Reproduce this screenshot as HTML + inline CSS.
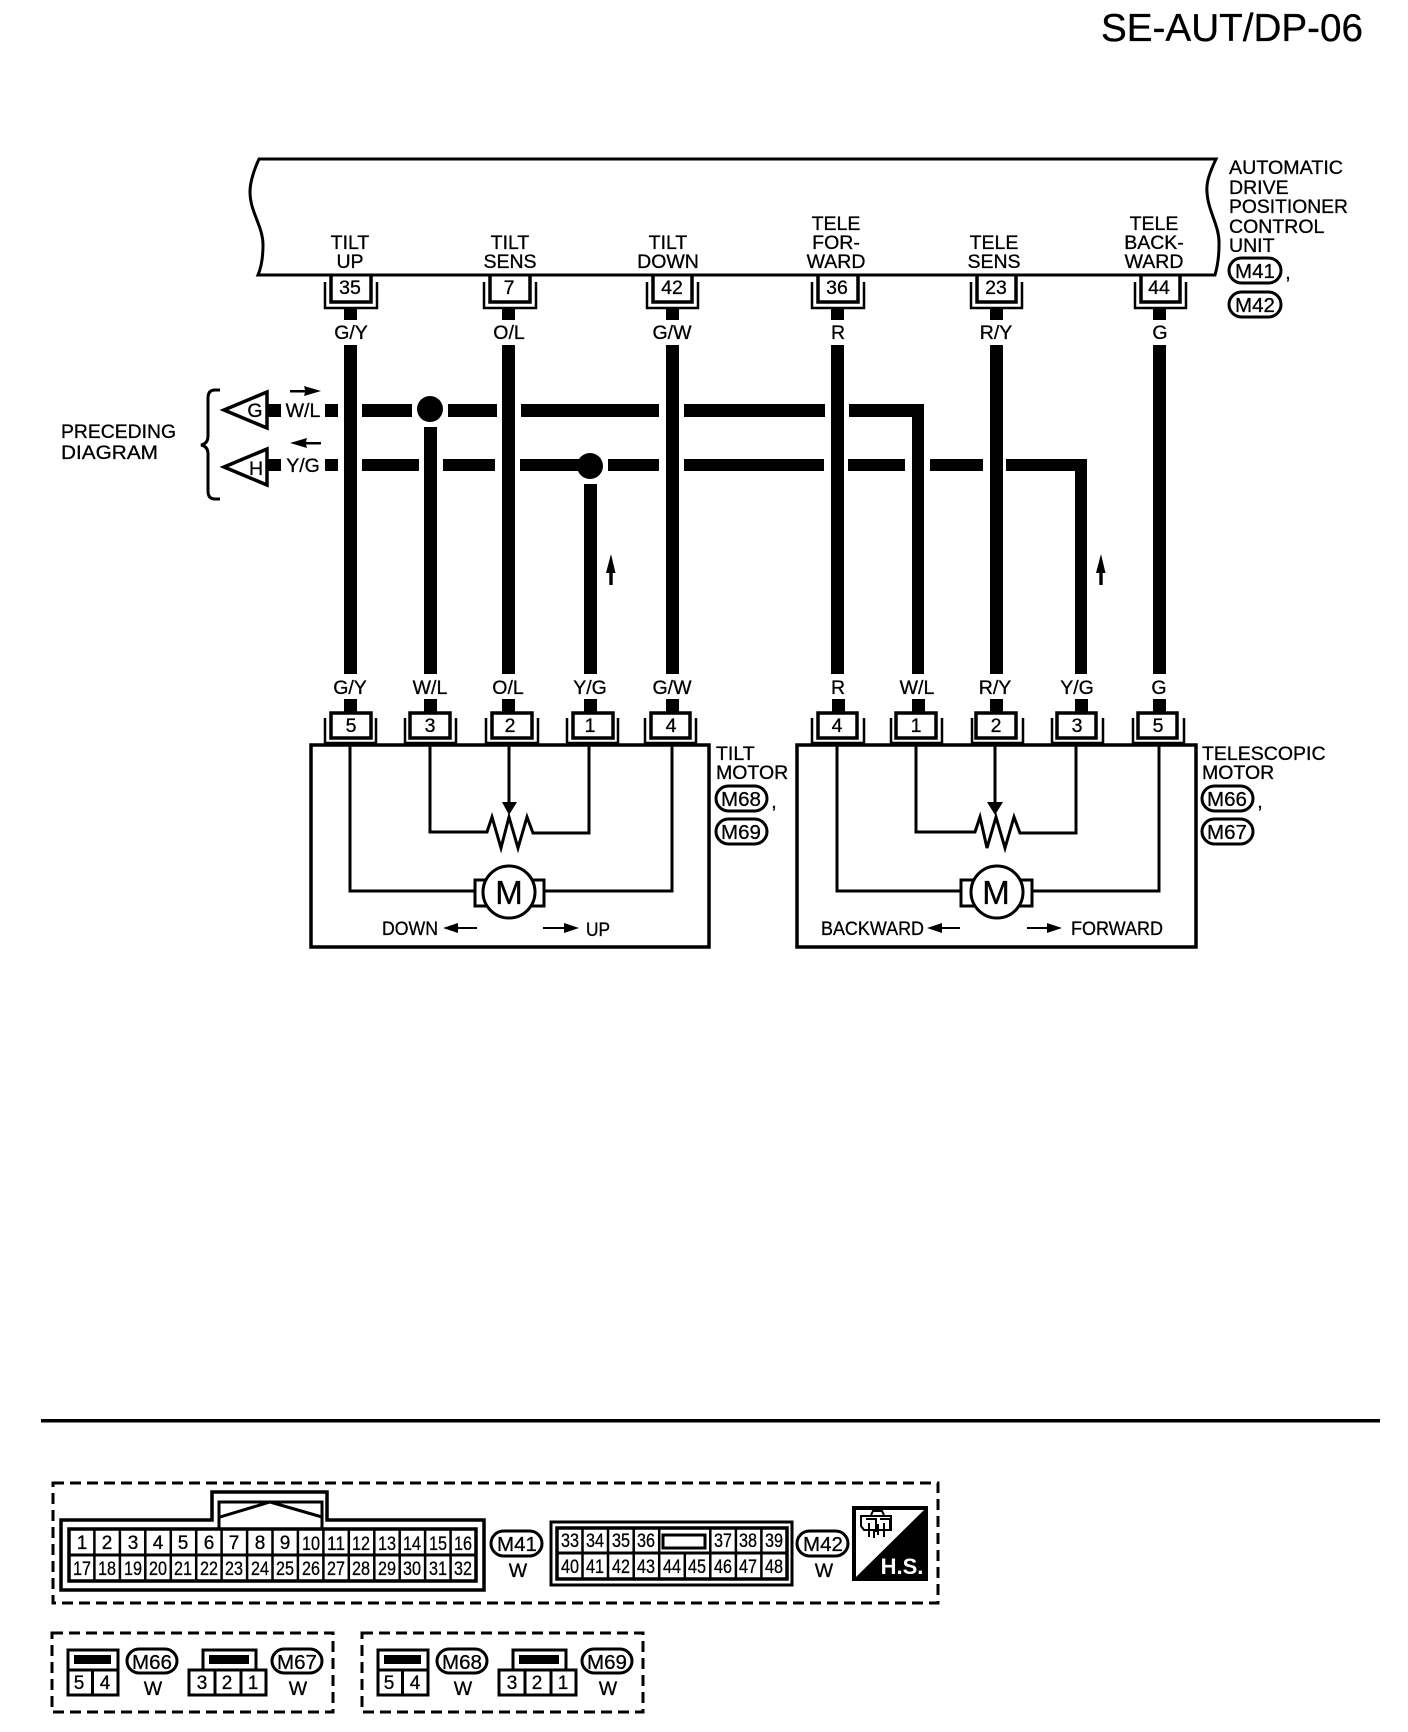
<!DOCTYPE html>
<html><head><meta charset="utf-8"><style>
html,body{margin:0;padding:0;background:#fff}
svg{display:block}
text{font-family:"Liberation Sans",sans-serif;font-size:19.5px;fill:#000;text-anchor:middle;stroke:#000;stroke-width:.3}
.l{text-anchor:start}
.o{font-size:20.5px}
.n{font-size:19px}
</style></head><body>
<svg width="1408" height="1732" viewBox="0 0 1408 1732" xmlns="http://www.w3.org/2000/svg">
<rect width="1408" height="1732" fill="#fff"/>
<text class="l" x="1101" y="41" style="font-size:38.5px" textLength="262" lengthAdjust="spacingAndGlyphs">SE-AUT/DP-06</text>

<!-- control unit -->
<path d="M259 159H1216C1210 172 1206 182 1207 192C1208 212 1220 226 1219 245C1219 258 1217 268 1215 275H258C261 268 263 258 263 245C263 226 250 212 250 192C250 182 254 170 259 159Z" fill="#fff" stroke="#000" stroke-width="3"/>
<text x="350" y="249">TILT</text><text x="350" y="268">UP</text>
<text x="510" y="249">TILT</text><text x="510" y="268">SENS</text>
<text x="668" y="249">TILT</text><text x="668" y="268">DOWN</text>
<text x="836" y="230">TELE</text><text x="836" y="249">FOR-</text><text x="836" y="268">WARD</text>
<text x="994" y="249">TELE</text><text x="994" y="268">SENS</text>
<text x="1154" y="230">TELE</text><text x="1154" y="249">BACK-</text><text x="1154" y="268">WARD</text>

<text class="l" x="1229" y="174" textLength="114" lengthAdjust="spacingAndGlyphs">AUTOMATIC</text>
<text class="l" x="1229" y="194">DRIVE</text>
<text class="l" x="1229" y="213" textLength="119" lengthAdjust="spacingAndGlyphs">POSITIONER</text>
<text class="l" x="1229" y="233">CONTROL</text>
<text class="l" x="1229" y="252">UNIT</text>
<g fill="none" stroke="#000" stroke-width="3">
<rect x="1229" y="258" width="52" height="25" rx="12.5"/>
<rect x="1229" y="292" width="52" height="25" rx="12.5"/>
<rect x="716" y="786" width="51" height="25" rx="12.5"/>
<rect x="716" y="819" width="51" height="25" rx="12.5"/>
<rect x="1202" y="786" width="51" height="25" rx="12.5"/>
<rect x="1202" y="819" width="51" height="25" rx="12.5"/>
</g>
<text class="o" x="1255" y="278">M41</text><text class="o" x="1255" y="312">M42</text>
<text x="1288" y="279">,</text>
<text class="o" x="741" y="806">M68</text><text class="o" x="741" y="839">M69</text><text x="774" y="808">,</text>
<text class="o" x="1227" y="806">M66</text><text class="o" x="1227" y="839">M67</text><text x="1260" y="808">,</text>

<!-- top connectors -->
<g fill="none" stroke="#000">
<g stroke-width="3.5">
<path d="M331 275V302H371V275"/><path d="M490 275V302H530V275"/><path d="M653 275V302H692V275"/>
<path d="M818 275V302H858V275"/><path d="M977 275V302H1016V275"/><path d="M1141 275V302H1180V275"/>
</g>
<g stroke-width="2.5">
<path d="M325 282V308H377V282"/><path d="M484 282V308H536V282"/><path d="M647 282V308H698V282"/>
<path d="M812 282V308H864V282"/><path d="M971 282V308H1022V282"/><path d="M1135 282V308H1186V282"/>
</g>
</g>
<text x="350" y="294">35</text><text x="509" y="294">7</text><text x="672" y="294">42</text>
<text x="837" y="294">36</text><text x="996" y="294">23</text><text x="1159" y="294">44</text>

<!-- vertical wires -->
<g fill="#000">
<rect x="344" y="309" width="13" height="11"/><rect x="502" y="309" width="13" height="11"/><rect x="666" y="309" width="13" height="11"/>
<rect x="831" y="309" width="13" height="11"/><rect x="990" y="309" width="13" height="11"/><rect x="1153" y="309" width="13" height="11"/>
<rect x="344" y="345" width="13" height="329"/>
<rect x="502" y="345" width="13" height="329"/>
<rect x="666" y="345" width="13" height="329"/>
<rect x="831" y="345" width="13" height="329"/>
<rect x="990" y="345" width="13" height="329"/>
<rect x="1153" y="345" width="13" height="329"/>
<rect x="424" y="427" width="13" height="247"/>
<rect x="584" y="484" width="13" height="190"/>

<!-- W/L horizontal -->
<rect x="268" y="404" width="13" height="13"/>
<rect x="325" y="404" width="13" height="13"/>
<rect x="362" y="404" width="50" height="13"/>
<rect x="448" y="404" width="49" height="13"/>
<rect x="521" y="404" width="138" height="13"/>
<rect x="684" y="404" width="141" height="13"/>
<rect x="849" y="404" width="75" height="13"/>
<rect x="912" y="404" width="12" height="270"/>
<circle cx="430" cy="409" r="13"/>

<!-- Y/G horizontal -->
<rect x="268" y="459" width="13" height="12"/>
<rect x="325" y="459" width="13" height="12"/>
<rect x="362" y="459" width="57" height="12"/>
<rect x="443" y="459" width="52" height="12"/>
<rect x="520" y="459" width="60" height="12"/>
<rect x="608" y="459" width="51" height="12"/>
<rect x="684" y="459" width="140" height="12"/>
<rect x="848" y="459" width="57" height="12"/>
<rect x="930" y="459" width="53" height="12"/>
<rect x="1006" y="459" width="81" height="12"/>
<rect x="1075" y="459" width="12" height="215"/>
<circle cx="590" cy="466" r="13"/>

<!-- stubs at motor connectors -->
<rect x="344" y="699" width="13" height="13"/><rect x="424" y="699" width="13" height="13"/><rect x="502" y="699" width="13" height="13"/><rect x="584" y="699" width="13" height="13"/><rect x="666" y="699" width="13" height="13"/>
<rect x="832" y="699" width="13" height="13"/><rect x="912" y="699" width="13" height="13"/><rect x="990" y="699" width="13" height="13"/><rect x="1075" y="699" width="13" height="13"/><rect x="1153" y="699" width="13" height="13"/>

<!-- up arrows -->
<path d="M611 554L615.500 573H612.700V585H609.300V573H606Z"/>
<path d="M1101 554L1105.500 573H1102.700V585H1099.300V573H1096Z"/>
<!-- small arrows -->
<path d="M290 390H305L304 386L321 391L304 396L305 392.500H290Z"/>
<path d="M321 442H306L307 438L290 443L307 448L306 444.500H321Z"/>
</g>

<text x="351" y="339">G/Y</text><text x="509" y="339">O/L</text><text x="672" y="339">G/W</text>
<text x="838" y="339">R</text><text x="996" y="339">R/Y</text><text x="1160" y="339">G</text>

<!-- preceding -->
<text class="l" x="61" y="438" textLength="115" lengthAdjust="spacingAndGlyphs">PRECEDING</text>
<text class="l" x="61" y="459" textLength="97" lengthAdjust="spacingAndGlyphs">DIAGRAM</text>
<path d="M220 390H215C210 390 208 393 208 398V436C208 441 206 444 201 445C206 446 208 449 208 454V491C208 496 210 499 215 499H220" fill="none" stroke="#000" stroke-width="3"/>
<path d="M224 410L267 392V428Z" fill="#fff" stroke="#000" stroke-width="3.5"/>
<path d="M224 467L267 449V485Z" fill="#fff" stroke="#000" stroke-width="3.5"/>
<text x="255" y="417">G</text><text x="256" y="475">H</text>
<text x="303" y="417">W/L</text><text x="303" y="472">Y/G</text>

<!-- bottom wire labels -->
<text x="350" y="694">G/Y</text><text x="430" y="694">W/L</text><text x="508" y="694">O/L</text><text x="590" y="694">Y/G</text><text x="672" y="694">G/W</text>
<text x="838" y="694">R</text><text x="917" y="694">W/L</text><text x="995" y="694">R/Y</text><text x="1077" y="694">Y/G</text><text x="1159" y="694">G</text>

<!-- motor boxes -->
<g fill="none" stroke="#000">
<rect x="311" y="745" width="398" height="202" stroke-width="3.5"/>
<rect x="797" y="745" width="399" height="202" stroke-width="3.5"/>
<g stroke-width="3.5">
<rect x="331" y="713" width="40" height="25"/><rect x="410" y="713" width="40" height="25"/><rect x="492" y="713" width="40" height="25"/><rect x="573" y="713" width="40" height="25"/><rect x="651" y="713" width="39" height="25"/>
<rect x="818" y="713" width="39" height="25"/><rect x="896" y="713" width="40" height="25"/><rect x="976" y="713" width="40" height="25"/><rect x="1057" y="713" width="39" height="25"/><rect x="1138" y="713" width="39" height="25"/>
</g>
<g stroke-width="2.5">
<path d="M325 718V743H376V718"/><path d="M405 718V743H456V718"/><path d="M486 718V743H538V718"/><path d="M567 718V743H618V718"/><path d="M645 718V743H696V718"/>
<path d="M812 718V743H864V718"/><path d="M891 718V743H942V718"/><path d="M972 718V743H1023V718"/><path d="M1052 718V743H1103V718"/><path d="M1133 718V743H1184V718"/>
</g>
<g stroke-width="3">
<path d="M350 745V891H475"/><path d="M544 891H672V745"/>
<path d="M430 745V832H487L492 817L501 848L509 817L518 848L527 817L533 833H589V745"/>
<path d="M509 745V805"/>
<path d="M837 745V891H960"/><path d="M1032 891H1159V745"/>
<path d="M916 745V832H975L980 817L987 848L996 817L1005 848L1014 817L1020 833H1076V745"/>
<path d="M995 745V805"/>
</g>
<g stroke-width="3" fill="#fff">
<rect x="475" y="880" width="69" height="26"/>
<circle cx="509" cy="892" r="26"/>
<rect x="961" y="880" width="71" height="26"/>
<circle cx="997" cy="892" r="26"/>
</g>
<g stroke-width="2">
<path d="M477 928H450"/><path d="M543 928H570"/><path d="M960 928H935"/><path d="M1027 928H1052"/>
</g>
</g>
<path d="M502 802H517L509 815Z"/><path d="M987 802H1003L995 815Z"/>
<path d="M443 928L458 923V933Z"/><path d="M579 928L564 923V933Z"/><path d="M927 928L942 923V933Z"/><path d="M1062 928L1047 923V933Z"/>

<text x="351" y="732">5</text><text x="430" y="732">3</text><text x="510" y="732">2</text><text x="590" y="732">1</text><text x="671" y="732">4</text>
<text x="837" y="732">4</text><text x="916" y="732">1</text><text x="996" y="732">2</text><text x="1077" y="732">3</text><text x="1158" y="732">5</text>
<text x="509" y="904" style="font-size:33px">M</text><text x="996" y="904" style="font-size:33px">M</text>
<text class="l" x="382" y="935" textLength="56" lengthAdjust="spacingAndGlyphs">DOWN</text>
<text class="l" x="586" y="936" textLength="24" lengthAdjust="spacingAndGlyphs">UP</text>
<text class="l" x="821" y="935" textLength="103" lengthAdjust="spacingAndGlyphs">BACKWARD</text>
<text class="l" x="1071" y="935" textLength="92" lengthAdjust="spacingAndGlyphs">FORWARD</text>
<text class="l" x="716" y="760">TILT</text><text class="l" x="716" y="779">MOTOR</text>
<text class="l" x="1202" y="760">TELESCOPIC</text><text class="l" x="1202" y="779">MOTOR</text>

<!-- rule -->
<rect x="41" y="1419" width="1339" height="3.5" fill="#000"/>

<!-- dashed boxes -->
<g fill="none" stroke="#000" stroke-width="3" stroke-dasharray="11 6">
<rect x="53" y="1483" width="885" height="120"/>
<rect x="52" y="1633" width="281" height="79"/>
<rect x="362" y="1633" width="281" height="79"/>
</g>

<!-- M41 connector -->
<g fill="none" stroke="#000">
<path d="M61 1590V1520H212V1492H327V1520H484V1590Z" stroke-width="3.5"/>
<path d="M219 1529V1502H322V1529" stroke-width="3"/>
<path d="M220 1517L270 1502L322 1517" stroke-width="3"/>
<rect x="69" y="1529" width="407" height="52" stroke-width="3.5"/>
<path d="M69 1555H476" stroke-width="3"/>
<path d="M94.4 1529v52M119.9 1529v52M145.3 1529v52M170.8 1529v52M196.2 1529v52M221.6 1529v52M247.1 1529v52M272.5 1529v52M297.9 1529v52M323.4 1529v52M348.8 1529v52M374.3 1529v52M399.7 1529v52M425.1 1529v52M450.6 1529v52" stroke-width="2.5"/>
</g>
<text class="n" x="82" y="1549">1</text><text class="n" x="107" y="1549">2</text><text class="n" x="133" y="1549">3</text><text class="n" x="158" y="1549">4</text><text class="n" x="183" y="1549">5</text><text class="n" x="209" y="1549">6</text><text class="n" x="234" y="1549">7</text><text class="n" x="260" y="1549">8</text><text class="n" x="285" y="1549">9</text>
<text class="n" x="311" y="1550" textLength="18" lengthAdjust="spacingAndGlyphs">10</text><text class="n" x="336" y="1550" textLength="18" lengthAdjust="spacingAndGlyphs">11</text><text class="n" x="361" y="1550" textLength="18" lengthAdjust="spacingAndGlyphs">12</text><text class="n" x="387" y="1550" textLength="18" lengthAdjust="spacingAndGlyphs">13</text><text class="n" x="412" y="1550" textLength="18" lengthAdjust="spacingAndGlyphs">14</text><text class="n" x="438" y="1550" textLength="18" lengthAdjust="spacingAndGlyphs">15</text><text class="n" x="463" y="1550" textLength="18" lengthAdjust="spacingAndGlyphs">16</text>
<text class="n" x="82" y="1575" textLength="18" lengthAdjust="spacingAndGlyphs">17</text><text class="n" x="107" y="1575" textLength="18" lengthAdjust="spacingAndGlyphs">18</text><text class="n" x="133" y="1575" textLength="18" lengthAdjust="spacingAndGlyphs">19</text><text class="n" x="158" y="1575" textLength="18" lengthAdjust="spacingAndGlyphs">20</text><text class="n" x="183" y="1575" textLength="18" lengthAdjust="spacingAndGlyphs">21</text><text class="n" x="209" y="1575" textLength="18" lengthAdjust="spacingAndGlyphs">22</text><text class="n" x="234" y="1575" textLength="18" lengthAdjust="spacingAndGlyphs">23</text><text class="n" x="260" y="1575" textLength="18" lengthAdjust="spacingAndGlyphs">24</text><text class="n" x="285" y="1575" textLength="18" lengthAdjust="spacingAndGlyphs">25</text><text class="n" x="311" y="1575" textLength="18" lengthAdjust="spacingAndGlyphs">26</text><text class="n" x="336" y="1575" textLength="18" lengthAdjust="spacingAndGlyphs">27</text><text class="n" x="361" y="1575" textLength="18" lengthAdjust="spacingAndGlyphs">28</text><text class="n" x="387" y="1575" textLength="18" lengthAdjust="spacingAndGlyphs">29</text><text class="n" x="412" y="1575" textLength="18" lengthAdjust="spacingAndGlyphs">30</text><text class="n" x="438" y="1575" textLength="18" lengthAdjust="spacingAndGlyphs">31</text><text class="n" x="463" y="1575" textLength="18" lengthAdjust="spacingAndGlyphs">32</text>
<rect x="491" y="1531" width="51" height="25" rx="12.5" fill="none" stroke="#000" stroke-width="3"/>
<text class="o" x="517" y="1551">M41</text><text x="518" y="1577">W</text>

<!-- M42 connector -->
<g fill="none" stroke="#000">
<rect x="551" y="1522" width="241" height="63" stroke-width="3"/>
<rect x="557" y="1528" width="230" height="51" stroke-width="3.5"/>
<path d="M557 1553H787" stroke-width="3"/>
<path d="M582.5 1528v51M608 1528v51M633.7 1528v51M659.2 1528v51M684.8 1553v26M710.3 1528v51M735.9 1528v51M761.4 1528v51" stroke-width="2.5"/>
<rect x="663" y="1535" width="42" height="13" fill="#fff" stroke-width="3"/>
</g>
<text class="n" x="570" y="1547" textLength="18" lengthAdjust="spacingAndGlyphs">33</text><text class="n" x="595" y="1547" textLength="18" lengthAdjust="spacingAndGlyphs">34</text><text class="n" x="621" y="1547" textLength="18" lengthAdjust="spacingAndGlyphs">35</text><text class="n" x="646" y="1547" textLength="18" lengthAdjust="spacingAndGlyphs">36</text><text class="n" x="723" y="1547" textLength="18" lengthAdjust="spacingAndGlyphs">37</text><text class="n" x="748" y="1547" textLength="18" lengthAdjust="spacingAndGlyphs">38</text><text class="n" x="774" y="1547" textLength="18" lengthAdjust="spacingAndGlyphs">39</text>
<text class="n" x="570" y="1573" textLength="18" lengthAdjust="spacingAndGlyphs">40</text><text class="n" x="595" y="1573" textLength="18" lengthAdjust="spacingAndGlyphs">41</text><text class="n" x="621" y="1573" textLength="18" lengthAdjust="spacingAndGlyphs">42</text><text class="n" x="646" y="1573" textLength="18" lengthAdjust="spacingAndGlyphs">43</text><text class="n" x="672" y="1573" textLength="18" lengthAdjust="spacingAndGlyphs">44</text><text class="n" x="697" y="1573" textLength="18" lengthAdjust="spacingAndGlyphs">45</text><text class="n" x="723" y="1573" textLength="18" lengthAdjust="spacingAndGlyphs">46</text><text class="n" x="748" y="1573" textLength="18" lengthAdjust="spacingAndGlyphs">47</text><text class="n" x="774" y="1573" textLength="18" lengthAdjust="spacingAndGlyphs">48</text>
<rect x="797" y="1531" width="51" height="25" rx="12.5" fill="none" stroke="#000" stroke-width="3"/>
<text class="o" x="823" y="1551">M42</text><text x="824" y="1577">W</text>

<!-- H.S. -->
<rect x="852" y="1506" width="76" height="75" fill="#000"/>
<path d="M856 1510H924L856 1577Z" fill="#fff"/>
<g fill="none" stroke="#000" stroke-width="2">
<path d="M861 1516H891V1530H864L861 1526Z"/>
<path d="M866 1519H876V1532M880 1519H890V1530M869 1523V1537M884 1523V1537M874 1530V1538M878 1524V1535"/>
<path d="M871 1515L873 1511H882L884 1515"/>
</g>
<text x="902" y="1574" style="font-size:22px;font-weight:bold;fill:#fff;stroke:none">H.S.</text>

<!-- small connectors -->
<g fill="none" stroke="#000" stroke-width="3">
<rect x="68" y="1650" width="50" height="45"/>
<path d="M68 1670H118M92.500 1670V1695"/>
<path d="M203 1670V1650H256V1670"/>
<rect x="189" y="1670" width="77" height="25"/>
<path d="M215 1670V1695M241 1670V1695"/>
<rect x="127" y="1649" width="50" height="24" rx="12"/>
<rect x="272" y="1649" width="50" height="24" rx="12"/>
</g>
<rect x="74" y="1655" width="37" height="9"/>
<rect x="209" y="1655" width="40" height="9"/>
<g transform="translate(310 0)">
<g fill="none" stroke="#000" stroke-width="3">
<rect x="68" y="1650" width="50" height="45"/>
<path d="M68 1670H118M92.500 1670V1695"/>
<path d="M203 1670V1650H256V1670"/>
<rect x="189" y="1670" width="77" height="25"/>
<path d="M215 1670V1695M241 1670V1695"/>
<rect x="127" y="1649" width="50" height="24" rx="12"/>
<rect x="272" y="1649" width="50" height="24" rx="12"/>
</g>
<rect x="74" y="1655" width="37" height="9"/>
<rect x="209" y="1655" width="40" height="9"/>
</g>
<text class="n" x="79" y="1689">5</text><text class="n" x="105" y="1689">4</text>
<text class="n" x="202" y="1689">3</text><text class="n" x="227" y="1689">2</text><text class="n" x="253" y="1689">1</text>
<text class="n" x="389" y="1689">5</text><text class="n" x="415" y="1689">4</text>
<text class="n" x="512" y="1689">3</text><text class="n" x="537" y="1689">2</text><text class="n" x="563" y="1689">1</text>
<text class="o" x="152" y="1669">M66</text><text x="153" y="1695">W</text>
<text class="o" x="297" y="1669">M67</text><text x="298" y="1695">W</text>
<text class="o" x="462" y="1669">M68</text><text x="463" y="1695">W</text>
<text class="o" x="607" y="1669">M69</text><text x="608" y="1695">W</text>
</svg>
</body></html>
